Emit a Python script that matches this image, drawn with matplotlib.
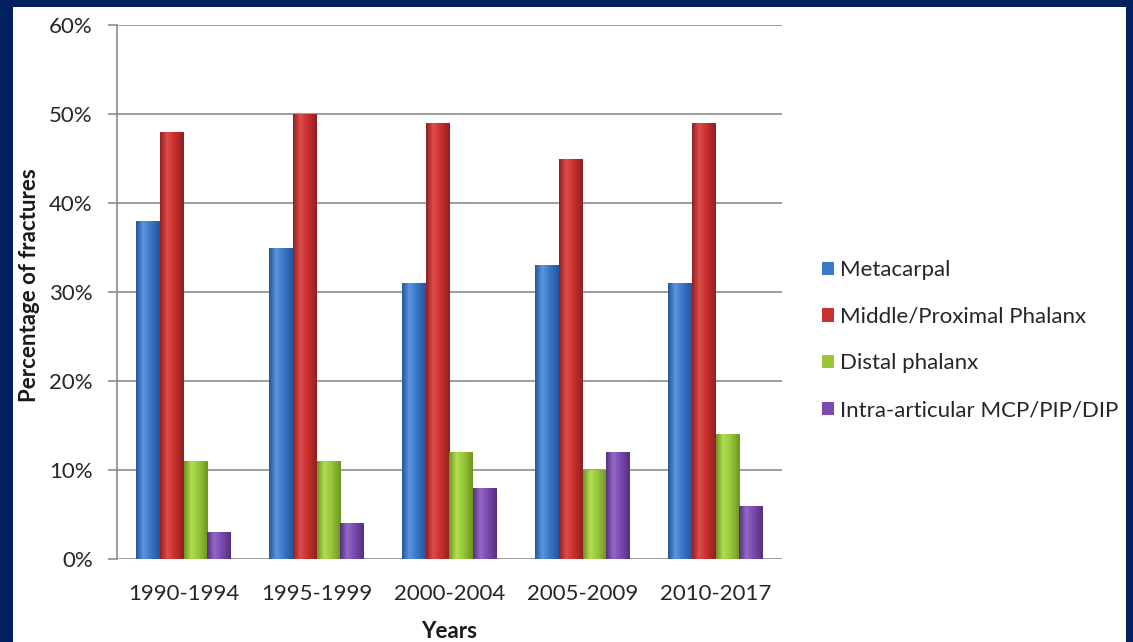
import numpy as np
import matplotlib.pyplot as plt
from matplotlib.patches import Rectangle
from matplotlib.colors import LinearSegmentedColormap
from matplotlib.ticker import PercentFormatter

plt.rcParams['font.family'] = ['Lato', 'DejaVu Sans']

years = ['1990-1994', '1995-1999', '2000-2004', '2005-2009', '2010-2017']
series = ['Metacarpal', 'Middle/Proximal Phalanx', 'Distal phalanx',
          'Intra-articular MCP/PIP/DIP']
metacarpal = [38, 35, 31, 33, 31]
middle_proximal = [48, 50, 49, 45, 49]
distal = [11, 11, 12, 10, 14]
intra_articular = [3, 4, 8, 12, 6]
colors = ['#3b78c9', '#c9302f', '#98c73a', '#7b4bb0']
lights = ['#5d95dc', '#dd4e4c', '#b2dc54', '#9468c6']
darks = ['#24569c', '#922020', '#6c9620', '#54307e']

fig = plt.figure(figsize=(11.33, 6.42), dpi=100)
fig.patch.set_facecolor('#00215e')
# white panel inside the navy frame
fig.patches.append(Rectangle((13 / 1133, 0), (1126 - 13) / 1133, 1 - 7 / 642,
                             transform=fig.transFigure, facecolor='white',
                             edgecolor='none', zorder=-10))

ax = fig.add_axes([117 / 1133, 1 - 559 / 642, (782 - 117) / 1133, (559 - 25) / 642])
ax.set_facecolor('white')
ax.set_zorder(1)

x = np.arange(len(years))
w = 0.18
grad = np.linspace(0, 1, 64).reshape(1, -1)
for i, vals in enumerate([metacarpal, middle_proximal, distal, intra_articular]):
    bars = ax.bar(x + (i - 1.5) * w, vals, w, color=colors[i], edgecolor='none',
                  label=series[i], zorder=3)
    # cylinder-like shading across each bar
    cmap = LinearSegmentedColormap.from_list(
        'c%d' % i, [(0, darks[i]), (0.3, lights[i]), (0.6, colors[i]), (1, darks[i])])
    for b in bars:
        x0, y0 = b.get_x(), b.get_y()
        im = ax.imshow(grad, cmap=cmap, aspect='auto', zorder=4,
                       extent=(x0, x0 + b.get_width(), y0, y0 + b.get_height()))
        im.set_clip_path(b)

ax.set_xlim(-0.5, len(years) - 0.5)
ax.set_ylim(0, 60)
ax.set_yticks(range(0, 61, 10))
ax.yaxis.set_major_formatter(PercentFormatter(decimals=0))
ax.set_xticks(x)
ax.set_xticklabels(years)
ax.grid(axis='y', color='#8c8c8c', linewidth=1.2, zorder=0)
for s in ['top', 'right', 'bottom']:
    ax.spines[s].set_visible(False)
ax.spines['left'].set_color('#8c8c8c')
ax.spines['left'].set_linewidth(1.2)
ax.tick_params(axis='y', length=6.5, width=1.2, color='#8c8c8c', labelsize=16,
               labelcolor='#262626', pad=11)
ax.tick_params(axis='x', length=0, labelsize=16, labelcolor='#262626', pad=18)

ax.set_ylabel('Percentage of fractures', fontsize=16, fontweight='bold', color='#1a1a1a')
ax.yaxis.set_label_coords(-0.131, 0.513)
ax.set_xlabel('Years', fontsize=16, fontweight='bold', color='#1a1a1a')
ax.xaxis.set_label_coords(0.5, -0.136)
ax.xaxis.label.set_va('center')
ax.yaxis.label.set_va('center')

ax.legend(loc='center left', bbox_to_anchor=(1.03, 0.41), frameon=False,
          fontsize=16, handlelength=0.55, handleheight=0.55, handletextpad=0.25,
          labelspacing=1.2, labelcolor='#262626')

fig.savefig('out.png', dpi=100, facecolor=fig.get_facecolor())
